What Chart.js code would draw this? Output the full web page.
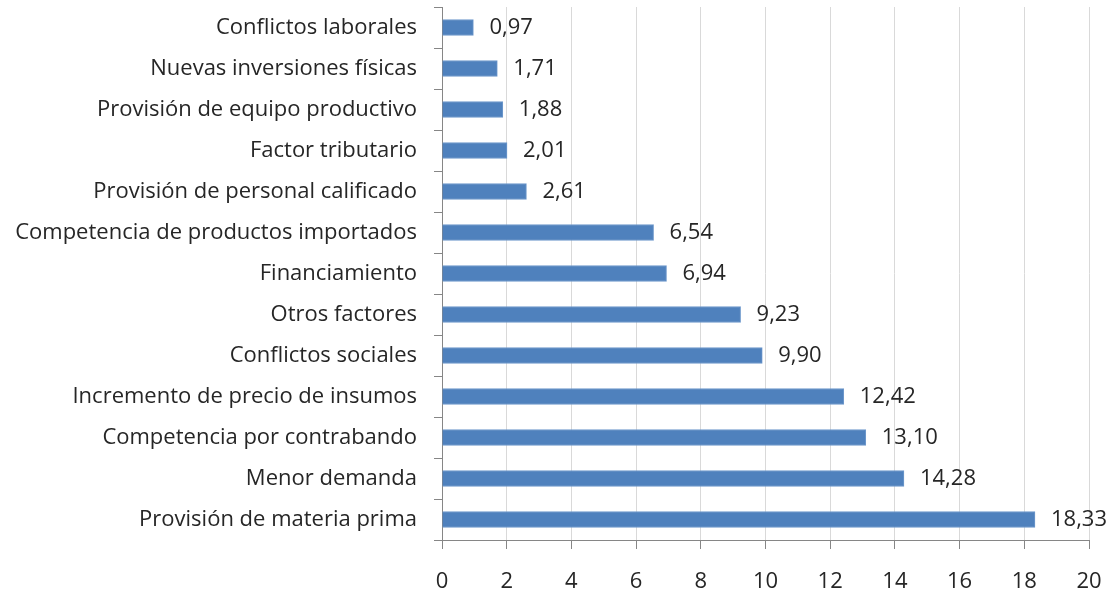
<!DOCTYPE html>
<html>
<head>
<meta charset="utf-8">
<script src="https://cdn.jsdelivr.net/npm/chart.js@4"></script>
<style>
  html,body{margin:0;padding:0;background:#fff;}
  #wrap{width:1110px;height:592px;position:relative;}
</style>
</head>
<body>
<div id="wrap"><canvas id="barChart" width="1110" height="592"></canvas></div>
<script>
// DATA
const categories = [
  'Conflictos laborales',
  'Nuevas inversiones físicas',
  'Provisión de equipo productivo',
  'Factor tributario',
  'Provisión de personal calificado',
  'Competencia de productos importados',
  'Financiamiento',
  'Otros factores',
  'Conflictos sociales',
  'Incremento de precio de insumos',
  'Competencia por contrabando',
  'Menor demanda',
  'Provisión de materia prima'
];
const values = [0.97, 1.71, 1.88, 2.01, 2.61, 6.54, 6.94, 9.23, 9.90, 12.42, 13.10, 14.28, 18.33];
const xTicks = [0, 2, 4, 6, 8, 10, 12, 14, 16, 18, 20];

const FONT = '"Open Sans", sans-serif';
const TEXT = '#262626';

// value labels right of each bar
const valueLabels = {
  id:'valueLabels',
  afterDatasetsDraw(chart){
    const c = chart.ctx;
    const meta = chart.getDatasetMeta(0);
    c.save();
    c.font = '22px ' + FONT;
    c.fillStyle = TEXT;
    c.textAlign = 'left';
    c.textBaseline = 'middle';
    meta.data.forEach((bar,i)=>{
      const txt = values[i].toFixed(2).replace('.', ',');
      c.fillText(txt, bar.x + 16, bar.y);
    });
    c.restore();
  }
};

const ctx = document.getElementById('barChart');
new Chart(ctx,{
  type:'bar',
  data:{
    labels:categories,
    datasets:[{
      data:values,
      backgroundColor:'#4f81bd',
      borderColor:'#6f99cc',
      borderWidth:1,
      barThickness:16
    }]
  },
  options:{
    indexAxis:'y',
    responsive:false,
    animation:false,
    layout:{padding:{top:7,right:21,left:0,bottom:0}},
    plugins:{legend:{display:false},tooltip:{enabled:false}},
    scales:{
      x:{
        min:0,max:20,
        afterBuildTicks(scale){ scale.ticks = xTicks.map(v=>({value:v})); },
        afterFit(scale){ scale.height = 52; scale.paddingLeft = 0; scale.paddingRight = 0; },
        grid:{color:'#d9d9d9',tickColor:'#868686',tickLength:9,lineWidth:1},
        border:{color:'#868686'},
        ticks:{color:TEXT,font:{family:FONT,size:22},padding:20}
      },
      y:{
        afterFit(scale){ scale.width = 442; scale.paddingTop = 0; scale.paddingBottom = 0; },
        grid:{drawOnChartArea:false,offset:true,tickColor:'#868686',tickLength:8},
        border:{color:'#868686'},
        ticks:{color:TEXT,font:{family:FONT,size:22},padding:17,autoSkip:false}
      }
    }
  },
  plugins:[valueLabels]
});
</script>
</body>
</html>
